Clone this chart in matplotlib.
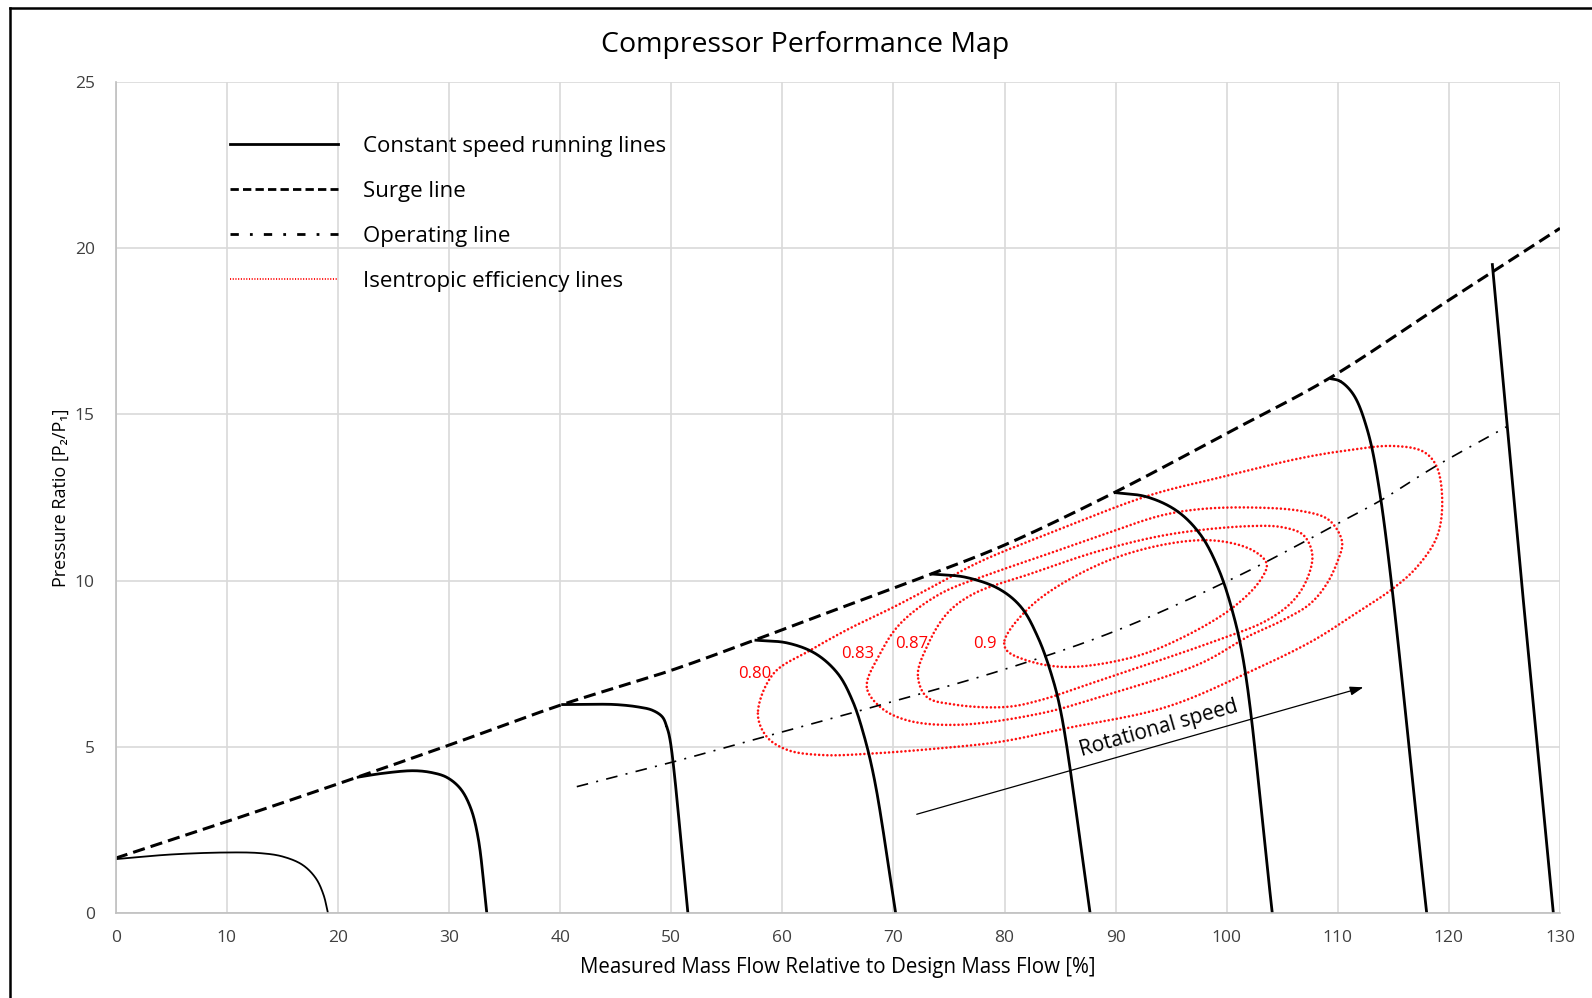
import numpy as np
import matplotlib
matplotlib.use("Agg")
import matplotlib.pyplot as plt
from matplotlib.lines import Line2D

plt.rcParams['font.family'] = ['Open Sans', 'DejaVu Sans']

# ---- data (x: % design mass flow, y: pressure ratio) ----
surge_x = [0, 10, 21.7, 30, 40, 50, 57.5, 65, 73.4, 80, 89.9, 100, 109.3, 120, 130]
surge_y = [1.65, 2.75, 4.08, 5.05, 6.25, 7.3, 8.21, 9.15, 10.2, 11.07, 12.65, 14.43, 16.1, 18.44, 20.6]

oper_x = [41.5, 49.9, 56.2, 68.2, 80, 90.1, 100.6, 106.6, 109.9, 113.8, 118.6, 125.2]
oper_y = [3.8, 4.52, 5.1, 6.2, 7.33, 8.5, 10.07, 11.1, 11.7, 12.4, 13.4, 14.63]

speed1_x = [0, 5, 10, 13, 15, 16.8, 18, 18.7, 19.1]
speed1_y = [1.62, 1.76, 1.82, 1.8, 1.7, 1.45, 1.05, 0.55, 0]
speed2_x = [21.7, 24, 26.8, 28.5, 29.8, 31, 31.9, 32.6, 33.4]
speed2_y = [4.08, 4.2, 4.28, 4.22, 4.08, 3.75, 3.2, 2.3, 0]
speed3_x = [40.1, 43, 45, 47, 48.3, 49.2, 49.6, 49.9, 51.5]
speed3_y = [6.27, 6.28, 6.27, 6.2, 6.1, 5.9, 5.6, 5.2, 0]
speed4_x = [57.5, 60.5, 63, 65, 66.3, 67.3, 68.3, 70.2]
speed4_y = [8.21, 8.12, 7.8, 7.2, 6.4, 5.4, 4.0, 0]
speed5_x = [73.4, 76.5, 79.5, 81.5, 83, 84.2, 85.1, 87.7]
speed5_y = [10.2, 10.1, 9.75, 9.2, 8.3, 7.2, 6.0, 0]
speed6_x = [89.9, 92.8, 95.5, 97.6, 99.2, 100.5, 101.6, 104.1]
speed6_y = [12.65, 12.52, 12.1, 11.4, 10.4, 9.1, 7.4, 0]
speed7_x = [109.3, 110.2, 111.4, 112.6, 113.8, 118]
speed7_y = [16.08, 16.0, 15.6, 14.6, 12.6, 0]
speed8_x = [123.9, 126.7, 129.4]
speed8_y = [19.55, 9.4, 0]

eff80_x = [57.8, 58.6, 60.5, 63.7, 68.2, 74, 79.6, 85.6, 94.6, 102.1, 107.8, 111.1, 115, 117.1,
           118.9, 119.4, 118.9, 117.7, 115, 111.1, 106.6, 100, 93.1, 85, 77.8, 74, 70, 66, 62.5, 59.2]
eff80_y = [6.0, 5.3, 4.9, 4.75, 4.8, 4.95, 5.15, 5.56, 6.2, 7.26, 8.2, 8.9, 9.77, 10.4,
           11.3, 12.3, 13.43, 13.88, 14.05, 13.93, 13.68, 13.15, 12.57, 11.55, 10.57, 9.9, 9.2, 8.55, 7.9, 7.2]
eff83_x = [67.6, 68.8, 70.6, 74.2, 78.7, 82.6, 88.6, 94, 97.6, 102.1, 106.6, 109, 110, 110.4,
           110, 109, 107.5, 105, 102.1, 97.6, 88.6, 83.2, 75.7, 71.2, 68.8]
eff83_y = [6.8, 7.8, 8.7, 9.6, 10.2, 10.65, 11.35, 11.95, 12.15, 12.2, 12.1, 11.87, 11.5, 11.1,
           10.6, 9.9, 9.3, 8.8, 8.35, 7.5, 6.5, 6.0, 5.66, 5.8, 6.2]
eff87_x = [72.2, 73, 74.8, 77.2, 82.3, 88.6, 95, 102.1, 105.1, 106.9, 107.7, 107.3, 106, 103.6,
           99.1, 88.6, 83.2, 80.2, 75.7, 73]
eff87_y = [7.16, 8.0, 9.0, 9.6, 10.2, 10.9, 11.4, 11.64, 11.6, 11.37, 10.8, 10.1, 9.4, 8.8,
           8.2, 7.0, 6.4, 6.2, 6.26, 6.5]
eff90_x = [80, 82.6, 88.6, 94.6, 99.1, 102.4, 103.6, 103, 100.6, 96.1, 91.6, 85.6, 82, 80.2]
eff90_y = [8.2, 9.3, 10.5, 11.1, 11.2, 10.9, 10.5, 10.0, 9.2, 8.3, 7.7, 7.4, 7.6, 7.9]

eff_labels = ['0.80', '0.83', '0.87', '0.9']
eff_label_x = [57.5, 66.8, 71.6, 78.2]
eff_label_y = [7.18, 7.8, 8.1, 8.1]

arrow_start = (72.1, 2.97)
arrow_end = (112.3, 6.79)


def smooth(xs, ys, closed=False, n=24, yscale=3.0):
    # centripetal catmull-rom through the read points (like Excel's smoothed lines)
    p = np.column_stack([xs, np.asarray(ys) * yscale]).astype(float)
    if closed:
        p = np.vstack([p[-1], p, p[0], p[1]])
    else:
        p = np.vstack([2 * p[0] - p[1], p, 2 * p[-1] - p[-2]])
    out = []
    for i in range(1, len(p) - 2):
        p0, p1, p2, p3 = p[i - 1], p[i], p[i + 1], p[i + 2]
        t0 = 0.0
        t1 = t0 + np.linalg.norm(p1 - p0) ** 0.5 + 1e-9
        t2 = t1 + np.linalg.norm(p2 - p1) ** 0.5 + 1e-9
        t3 = t2 + np.linalg.norm(p3 - p2) ** 0.5 + 1e-9
        t = np.linspace(t1, t2, n)[:, None]
        a1 = (t1 - t) / (t1 - t0) * p0 + (t - t0) / (t1 - t0) * p1
        a2 = (t2 - t) / (t2 - t1) * p1 + (t - t1) / (t2 - t1) * p2
        a3 = (t3 - t) / (t3 - t2) * p2 + (t - t2) / (t3 - t2) * p3
        b1 = (t2 - t) / (t2 - t0) * a1 + (t - t0) / (t2 - t0) * a2
        b2 = (t3 - t) / (t3 - t1) * a2 + (t - t1) / (t3 - t1) * a3
        c = (t2 - t) / (t2 - t1) * b1 + (t - t1) / (t2 - t1) * b2
        out.append(c)
    c = np.vstack(out)
    return c[:, 0], c[:, 1] / yscale


fig = plt.figure(figsize=(15.92, 9.98), dpi=100)
ax = fig.add_axes([0.0727, 0.0852, 0.9072, 0.8326])

# frame around the chart (only left/top visible in the reference)
fig.add_artist(Line2D([10 / 1592, 10 / 1592], [0, 1 - 8 / 998], transform=fig.transFigure, color='black', lw=1.8))
fig.add_artist(Line2D([10 / 1592, 1], [1 - 8 / 998, 1 - 8 / 998], transform=fig.transFigure, color='black', lw=1.8))

# efficiency islands
dotted = (0, (0.01, 1.55))
for ex, ey in [(eff80_x, eff80_y), (eff83_x, eff83_y), (eff87_x, eff87_y), (eff90_x, eff90_y)]:
    sx, sy = smooth(ex, ey, closed=True)
    ax.plot(sx, sy, color='#ff1010', lw=1.9, ls=dotted, dash_capstyle='round')

for lab, lx, ly in zip(eff_labels, eff_label_x, eff_label_y):
    ax.text(lx, ly, lab, color='red', fontsize=12, ha='center', va='center')

# constant speed lines
speeds = [(speed1_x, speed1_y), (speed2_x, speed2_y), (speed3_x, speed3_y), (speed4_x, speed4_y),
          (speed5_x, speed5_y), (speed6_x, speed6_y), (speed7_x, speed7_y), (speed8_x, speed8_y)]
widths = [1.3, 2.0, 2.0, 2.0, 2.0, 2.0, 2.0, 2.0]
for (sx_, sy_), w in zip(speeds, widths):
    if len(sx_) > 3:
        sx, sy = smooth(sx_, sy_)
    else:
        sx, sy = sx_, sy_
    ax.plot(sx, sy, color='black', lw=w, solid_capstyle='butt')

# surge line
sx, sy = smooth(surge_x, surge_y)
ax.plot(sx, sy, color='black', lw=2.2, ls=(0, (4, 2)))

# operating line
sx, sy = smooth(oper_x, oper_y)
ax.plot(sx, sy, color='black', lw=1.2, ls=(0, (7, 5, 1.2, 5)))

# rotational speed arrow
ax.annotate('', xy=arrow_end, xytext=arrow_start,
            arrowprops=dict(arrowstyle='-|>,head_length=0.8,head_width=0.27', color='black', lw=0.9,
                            shrinkA=0, shrinkB=0))
ang = np.degrees(np.arctan2((arrow_end[1] - arrow_start[1]) * 33.24, (arrow_end[0] - arrow_start[0]) * 11.11))
ax.text(93.9, 5.55, 'Rotational speed', rotation=ang, rotation_mode='anchor', ha='center', va='center',
        fontsize=15, color='black')

# legend
handles = [Line2D([], [], color='black', lw=2.0),
           Line2D([], [], color='black', lw=2.0, ls=(0, (3, 1.5))),
           Line2D([], [], color='black', lw=2.0, ls=(0, (3, 4, 1, 4))),
           Line2D([], [], color='red', lw=1.3, ls=(0, (0.6, 0.9)))]
labels = ['Constant speed running lines', 'Surge line', 'Operating line', 'Isentropic efficiency lines']
ax.legend(handles, labels, loc='upper left', bbox_to_anchor=(0.0788, 0.935), frameon=False,
          fontsize=16, handlelength=4.9, handletextpad=1.1, labelspacing=1.08, borderaxespad=0,
          borderpad=0)

ax.set_xlim(0, 130)
ax.set_ylim(0, 25)
ax.set_xticks(np.arange(0, 131, 10))
ax.set_yticks(np.arange(0, 26, 5))
ax.grid(True, color='#d9d9d9', lw=1.2)
ax.set_axisbelow(True)
for s in ['top', 'right']:
    ax.spines[s].set_visible(False)
for s in ['left', 'bottom']:
    ax.spines[s].set_color('#bfbfbf')
    ax.spines[s].set_linewidth(1.2)
ax.tick_params(length=0, labelsize=12.5, labelcolor='#404040')
ax.tick_params(axis='x', pad=12)
ax.tick_params(axis='y', pad=15)

ax.set_xlabel('Measured Mass Flow Relative to Design Mass Flow [%]', fontsize=14.8, labelpad=8)
ax.set_ylabel('Pressure Ratio [P\u2082/P\u2081]', fontsize=13, labelpad=4)
fig.text(805 / 1592, 1 - 45 / 998, 'Compressor Performance Map', fontsize=20.5, ha='center', va='center')

fig.savefig('out.png', dpi=100)
